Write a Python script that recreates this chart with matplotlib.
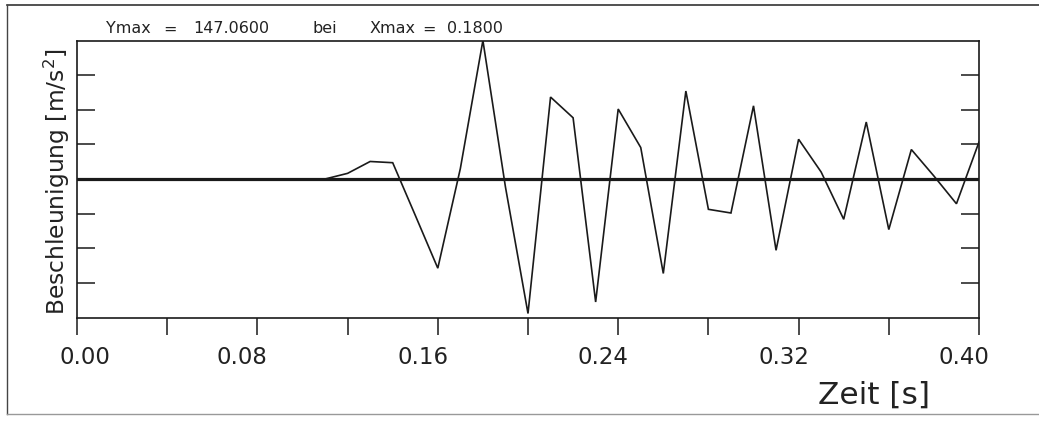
import matplotlib
matplotlib.use("Agg")
import matplotlib.pyplot as plt
from matplotlib.lines import Line2D
from matplotlib.transforms import ScaledTranslation

# ---- data ----
time_s = [0.00, 0.01, 0.02, 0.03, 0.04, 0.05, 0.06, 0.07, 0.08, 0.09, 0.10,
          0.11, 0.12, 0.13, 0.14, 0.15, 0.16, 0.17, 0.18, 0.19, 0.20,
          0.21, 0.22, 0.23, 0.24, 0.25, 0.26, 0.27, 0.28, 0.29, 0.30,
          0.31, 0.32, 0.33, 0.34, 0.35, 0.36, 0.37, 0.38, 0.39, 0.40]
accel = [0, 0, 0, 0, 0, 0, 0, 0, 0, 0, 0,
         0, 6.0, 18.6, 17.3, -38.5, -94.7, 11.1, 147.06, -8.5, -142.8,
         87.0, 65.0, -130.6, 74.3, 33.4, -100.3, 93.4, -32.2, -36.1, 77.7,
         -75.7, 42.2, 7.4, -42.8, 60.5, -53.7, 31.3, 3.2, -26.3, 39.3]

y_max = 147.06
x_max = 0.18
major_ticks = [0.00, 0.08, 0.16, 0.24, 0.32, 0.40]
minor_ticks = [0.04, 0.12, 0.20, 0.28, 0.36]
tick_labels = ["0.00", "0.08", "0.16", "0.24", "0.32", "0.40"]

W, H = 1039, 421
fig = plt.figure(figsize=(W / 100, H / 100), dpi=100)
fig.patch.set_facecolor("white")

# axes box in pixel coords: left 77, right 979, top 40.5, bottom 317.5
l, r, t, b = 77, 979, 40.5, 317.5
ax = fig.add_axes([l / W, (H - b) / H, (r - l) / W, (b - t) / H])

ink = "#1a1a1a"
ax.plot(time_s, accel, color=ink, lw=1.2, solid_joinstyle="miter", zorder=3)
ax.axhline(0, color=ink, lw=2.3, zorder=2)

ax.set_xlim(0.0, 0.40)
ax.set_ylim(-y_max, y_max)

for s in ax.spines.values():
    s.set_linewidth(1.2)
    s.set_color(ink)

ax.set_xticks(major_ticks)
ax.set_xticklabels(tick_labels)
ax.set_xticks(minor_ticks, minor=True)
ax.tick_params(axis="x", which="both", direction="out", length=12.3, width=1.1,
               color=ink, labelsize=16.5, pad=8, labelcolor="#222222")

step = y_max / 4
ax.set_yticks([-3 * step, -2 * step, -step, step, 2 * step, 3 * step])
ax.tick_params(axis="y", which="both", direction="in", length=12.8, width=1.1,
               color=ink, left=True, right=True, labelleft=False, labelright=False)

# shift tick labels horizontally like the reference plotter
fig.canvas.draw()
for lab in ax.get_xticklabels():
    dx = 8 if lab.get_text() == "0.00" else -15
    lab.set_transform(lab.get_transform() + ScaledTranslation(dx / 100, 0, fig.dpi_scale_trans))

# y label
fig.text(57 / W, (H - 181.5) / H, "Beschleunigung [m/s$^2$]", rotation=90,
         ha="center", va="center", fontsize=16.8, color="#222222")
# x label
fig.text(874.5 / W, (H - 403.3) / H, "Zeit [s]", ha="center", va="baseline",
         fontsize=22.5, color="#222222")

# header text
ty = (H - 33.3) / H
for xp, s in [(106, "Ymax"), (163, "="), (193, "147.0600"), (312, "bei"),
              (370, "Xmax"), (422, "="), (447, "0.1800")]:
    fig.text(xp / W, ty, s, ha="left", va="baseline", fontsize=11.5, color="#222222")

# outer frame
fig.add_artist(Line2D([7 / W, 1.0], [(H - 5) / H, (H - 5) / H], transform=fig.transFigure,
                      color="#333333", lw=1.2))
fig.add_artist(Line2D([7 / W, 7 / W], [(H - 5) / H, (H - 414) / H], transform=fig.transFigure,
                      color="#444444", lw=1.0))
fig.add_artist(Line2D([7 / W, 1.0], [(H - 414) / H, (H - 414) / H], transform=fig.transFigure,
                      color="#999999", lw=1.0))

fig.savefig("out.png", dpi=100, facecolor="white")
